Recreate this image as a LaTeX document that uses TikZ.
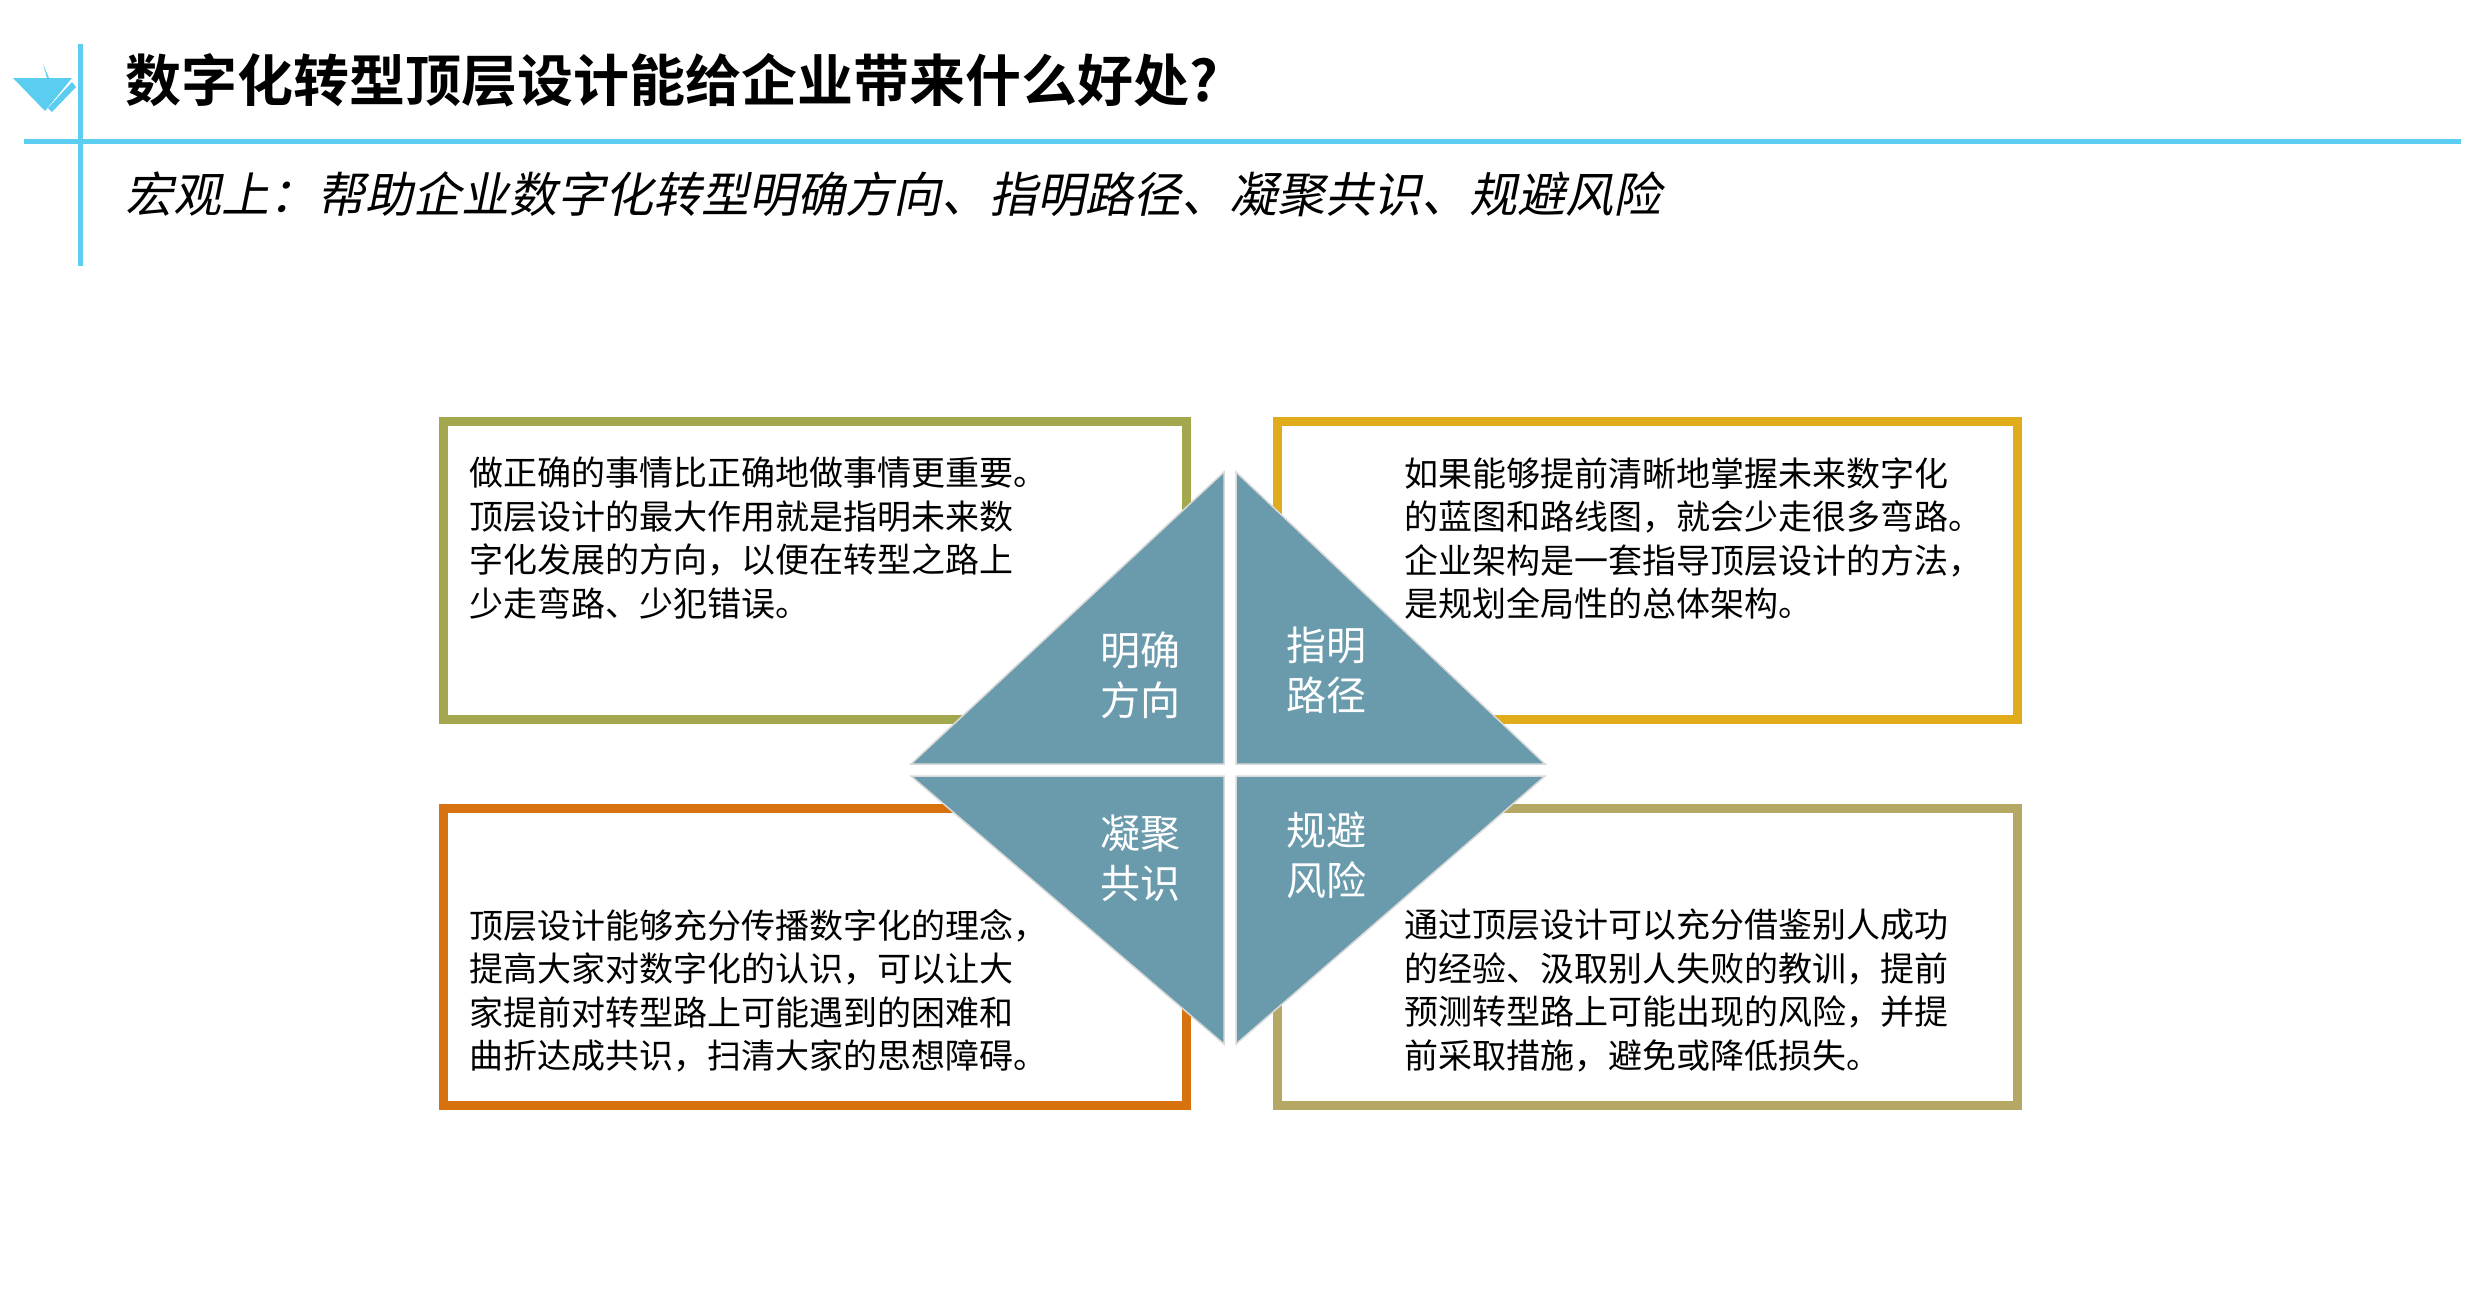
\documentclass[tikz,border=0pt]{standalone}
\usepackage{fontspec}
\setmainfont{Noto Sans CJK SC}
\newfontfamily\cjkb{Noto Sans CJK SC Bold}
\newfontfamily\cjks[FakeSlant=0.2]{Noto Sans CJK SC}
\definecolor{cyanl}{HTML}{5BCDF0}
\definecolor{olv}{HTML}{A3A84E}
\definecolor{gld}{HTML}{E0AC1C}
\definecolor{org}{HTML}{D8720E}
\definecolor{khk}{HTML}{B5A764}
\definecolor{tri}{HTML}{6A9BAD}
\tikzset{
 box/.style={line width=9pt},
 tri/.style={fill=tri,draw=gray!30,line width=1.5pt},
 body/.style={anchor=north west,inner sep=0pt,align=left,font=\fontsize{34}{43.5}\selectfont},
 lab/.style={text=white,align=center,inner sep=0pt,font=\fontsize{40}{50}\selectfont}
}
\begin{document}
\begin{tikzpicture}[x=1pt,y=-1pt]
\useasboundingbox[fill=white] (0,0) rectangle (2480,1312);
% header
\draw[cyanl,line width=5pt] (24,141) -- (2461,141);
\draw[cyanl,line width=5pt] (80,44) -- (80,266);
\fill[cyanl] (13,78) -- (47,78) -- (43,64) -- (49,78) -- (72,78) -- (45,111) -- cycle;
\fill[cyanl] (72,82) -- (76,87) -- (52,112) -- (48,108) -- cycle;
\node[anchor=west,inner sep=0pt,font=\cjkb\fontsize{56}{60}\selectfont] (title) at (125,80) {数字化转型顶层设计能给企业带来什么好处?};
\node[anchor=west,inner sep=0pt,font=\cjks\fontsize{48}{52}\selectfont] (sub) at (125,194) {宏观上：帮助企业数字化转型明确方向、指明路径、凝聚共识、规避风险};
% boxes
\draw[box,olv] (443,421) rectangle (1186,719);
\draw[box,gld] (1277,421) rectangle (2017,719);
\draw[box,org] (443,808) rectangle (1186,1105);
\draw[box,khk] (1277,808) rectangle (2017,1105);
% texts
\node[body] (t1) at (469,457) {做正确的事情比正确地做事情更重要。\\顶层设计的最大作用就是指明未来数\\字化发展的方向，以便在转型之路上\\少走弯路、少犯错误。};
\node[body] (t2) at (1404,457) {如果能够提前清晰地掌握未来数字化\\的蓝图和路线图，就会少走很多弯路。\\企业架构是一套指导顶层设计的方法，\\是规划全局性的总体架构。};
\node[body] (t3) at (469,909) {顶层设计能够充分传播数字化的理念，\\提高大家对数字化的认识，可以让大\\家提前对转型路上可能遇到的困难和\\曲折达成共识，扫清大家的思想障碍。};
\node[body] (t4) at (1404,909) {通过顶层设计可以充分借鉴别人成功\\的经验、汲取别人失败的教训，提前\\预测转型路上可能出现的风险，并提\\前采取措施，避免或降低损失。};
% diamond
\draw[tri] (1224,472) -- (1224,764) -- (911,764) -- cycle;
\draw[tri] (1236,472) -- (1236,764) -- (1545,764) -- cycle;
\draw[tri] (1224,776) -- (1224,1044) -- (911,776) -- cycle;
\draw[tri] (1236,776) -- (1236,1044) -- (1545,776) -- cycle;
\node[lab] (l1) at (1140,675) {明确\\方向};
\node[lab] (l2) at (1326,670) {指明\\路径};
\node[lab] (l3) at (1140,858) {凝聚\\共识};
\node[lab] (l4) at (1326,855) {规避\\风险};
\end{tikzpicture}
\end{document}
